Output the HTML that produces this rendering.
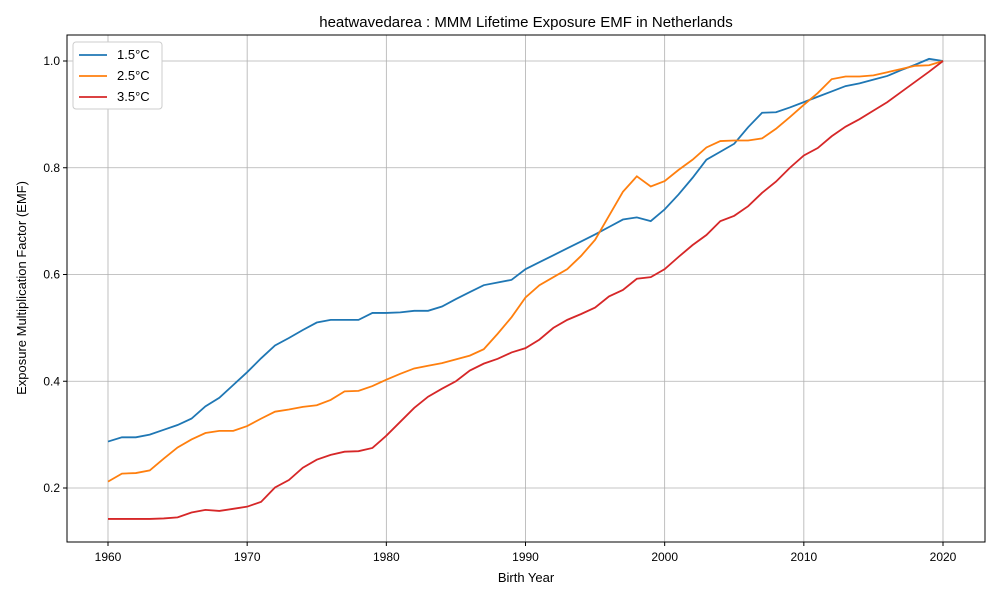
<!DOCTYPE html>
<html><head><meta charset="utf-8"><style>
body{margin:0;background:#fff}
svg{font-family:"Liberation Sans","DejaVu Sans",sans-serif}
</style></head><body>
<svg id="chart" width="1000" height="600" xmlns="http://www.w3.org/2000/svg">
<rect width="1000" height="600" fill="#fff"/>
<text x="526" y="27" font-size="15" text-anchor="middle">heatwavedarea : MMM Lifetime Exposure EMF in Netherlands</text>
<g id="grid"></g>
<g id="series"></g>
<rect x="67" y="35" width="918" height="507" fill="none" stroke="#000" stroke-width="1"/>
<g id="ticks" font-size="12"></g>
<text x="526" y="582" font-size="13" text-anchor="middle">Birth Year</text>
<text transform="translate(26,288) rotate(-90)" font-size="13" text-anchor="middle">Exposure Multiplication Factor (EMF)</text>
<g id="legend"></g>
</svg>
<script>
const years=[];for(let y=1960;y<=2020;y++)years.push(y);
const s15=[0.287,0.295,0.295,0.300,0.309,0.318,0.330,0.353,0.369,0.393,0.417,0.443,0.467,0.481,0.496,0.510,0.515,0.515,0.515,0.528,0.528,0.529,0.532,0.532,0.540,0.554,0.567,0.580,0.585,0.590,0.610,0.623,0.636,0.649,0.662,0.675,0.689,0.703,0.707,0.700,0.722,0.750,0.781,0.815,0.830,0.845,0.876,0.903,0.904,0.913,0.923,0.933,0.943,0.953,0.958,0.965,0.972,0.983,0.993,1.004,1.000];
const s25=[0.212,0.227,0.228,0.233,0.255,0.276,0.291,0.303,0.307,0.307,0.316,0.330,0.343,0.347,0.352,0.355,0.365,0.381,0.382,0.391,0.403,0.414,0.424,0.429,0.434,0.441,0.448,0.460,0.489,0.520,0.557,0.580,0.595,0.610,0.635,0.665,0.710,0.755,0.784,0.765,0.775,0.796,0.815,0.838,0.850,0.851,0.851,0.855,0.873,0.895,0.918,0.940,0.966,0.971,0.971,0.973,0.979,0.985,0.991,0.992,1.000];
const s35=[0.142,0.142,0.142,0.142,0.143,0.145,0.154,0.159,0.157,0.161,0.165,0.174,0.201,0.215,0.238,0.253,0.262,0.268,0.269,0.275,0.298,0.324,0.350,0.371,0.386,0.400,0.420,0.433,0.442,0.454,0.462,0.478,0.500,0.515,0.526,0.538,0.559,0.571,0.592,0.595,0.610,0.633,0.655,0.674,0.700,0.710,0.728,0.753,0.774,0.800,0.823,0.837,0.859,0.877,0.891,0.907,0.923,0.942,0.961,0.980,1.000];
const xTicks=[1960,1970,1980,1990,2000,2010,2020];
const yTicks=[0.2,0.4,0.6,0.8,1.0];
const seriesNames=["1.5°C","2.5°C","3.5°C"];
const colors=["#1f77b4","#ff7f0e","#d62728"];
const NS="http://www.w3.org/2000/svg";
const X=v=>108+(v-1960)*(943-108)/60;
const Y=v=>488-(v-0.2)*(488-61)/0.8;
function mk(tag,attrs,parent){const e=document.createElementNS(NS,tag);for(const k in attrs)e.setAttribute(k,attrs[k]);parent.appendChild(e);return e;}
const grid=document.getElementById('grid'),ticks=document.getElementById('ticks'),ser=document.getElementById('series'),leg=document.getElementById('legend');
xTicks.forEach(t=>{
 const g=mk('line',{x1:X(t),x2:X(t),y1:35,y2:542,stroke:'#b0b0b0','stroke-width':0.8},grid);
 
 
 mk('line',{x1:X(t),x2:X(t),y1:542,y2:546,stroke:'#000'},ticks);
 const l=mk('text',{x:X(t),y:561,'text-anchor':'middle'},ticks);l.textContent=t;
 
 
});
yTicks.forEach(t=>{
 const g=mk('line',{x1:67,x2:985,y1:Y(t),y2:Y(t),stroke:'#b0b0b0','stroke-width':0.8},grid);
 
 
 mk('line',{x1:63,x2:67,y1:Y(t),y2:Y(t),stroke:'#000'},ticks);
 const l=mk('text',{x:60,y:Y(t)+4,'text-anchor':'end'},ticks);l.textContent=t.toFixed(1);
 
 
});
[s15,s25,s35].forEach((s,i)=>{
 const p=mk('polyline',{points:s.map((v,j)=>X(years[j])+','+Y(v)).join(' '),fill:'none',stroke:colors[i],'stroke-width':1.8},ser);
 
 
});
const box=mk('rect',{x:73,y:42,width:89,height:67,fill:'#fff',stroke:'#ccc',rx:3},leg);


seriesNames.forEach((n,i)=>{
 const y=55+i*21;
 mk('line',{x1:79,x2:107,y1:y,y2:y,stroke:colors[i],'stroke-width':1.8},leg);
 const t=mk('text',{x:117,y:y+4,'font-size':13},leg);t.textContent=n;
 
 
});
</script>
</body></html>
